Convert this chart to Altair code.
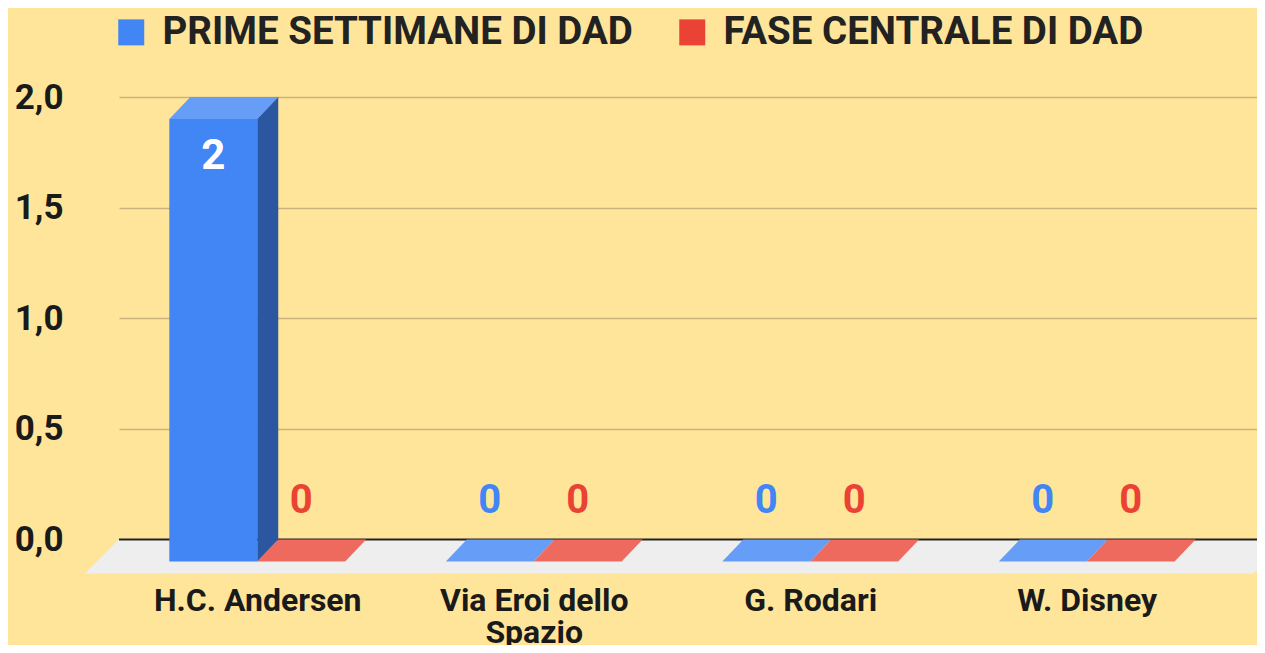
import altair as alt
import pandas as pd

# ---- data ----
categories = ["H.C. Andersen", "Via Eroi dello Spazio", "G. Rodari", "W. Disney"]
series = ["PRIME SETTIMANE DI DAD", "FASE CENTRALE DI DAD"]
prime = [2, 0, 0, 0]
fase = [0, 0, 0, 0]
values = {series[0]: prime, series[1]: fase}
y_ticks = [0, 0.5, 1.0, 1.5, 2.0]

# ---- style ----
front_colors = ["#4285f4", "#ea4335"]
top_colors = ["#669df6", "#ee6a5f"]
side_colors = ["#2b57a0", "#a3302a"]
BG = "#ffe599"
FLOOR = "#eeeeee"
FONT = "Roboto"
BW = 0.318      # bar width (category units)
DX, DY = 0.076, 0.0993          # 3D depth in data units
FDX, FDY = 0.123, 0.1536        # floor depth
XMAX = 4.116
YMIN, YMAX = -0.16, 2.0
W, H = 1138, 478

rects, tops, sides = [], [], []
for ci, cat in enumerate(categories):
    c = ci + 0.5
    for si, s in enumerate(series):
        v = values[s][ci]
        L = c - BW + si * BW
        R = L + BW
        pid = f"{ci}-{si}"
        rects.append(dict(series=s, x0=L, x1=R, ylo=-DY, yhi=v - DY, v=v,
                          xc=(L + R) / 2, label=str(v), tc=front_colors[si]))
        for xx, yt, yb in [(L, v - DY, v - DY), (L + DX, v, v - DY),
                           (R, v, v - DY), (R + DX, v, v)]:
            tops.append(dict(pid=pid, x=xx, yt=yt, yb=yb, col=top_colors[si]))
        if v > 0:
            for xx, yt, yb in [(R, v - DY, -DY), (R + DX, v, 0)]:
                sides.append(dict(pid=pid, x=xx, yt=yt, yb=yb, col=side_colors[si]))

floor_right = XMAX + 0.11
floor = pd.DataFrame([
    dict(pid="f", x=-FDX, yt=-FDY, yb=-FDY, col=FLOOR),
    dict(pid="f", x=0, yt=0, yb=-FDY, col=FLOOR),
    dict(pid="f", x=floor_right - FDX, yt=0, yb=-FDY, col=FLOOR),
    dict(pid="f", x=floor_right, yt=0, yb=0, col=FLOOR),
])
rects = pd.DataFrame(rects)
tops = pd.DataFrame(tops)
sides = pd.DataFrame(sides)

label_expr = ("datum.value < 1 ? 'H.C. Andersen' : datum.value < 2 ? ['Via Eroi dello', 'Spazio'] : "
              "datum.value < 3 ? 'G. Rodari' : 'W. Disney'")

xscale = alt.Scale(domain=[0, XMAX], nice=False, zero=False)
yscale = alt.Scale(domain=[YMIN, YMAX], nice=False, zero=False)
xaxis = alt.Axis(values=[0.5, 1.5, 2.5, 3.5], labelExpr=label_expr, title=None, grid=False,
                 domain=False, ticks=False, labelFontSize=32, labelFont=FONT, labelFontWeight="bold",
                 labelColor="#1a1a1a", labelPadding=10, labelLineHeight=32, labelBaseline="top",
                 labelLimit=0)
yaxis = alt.Axis(values=y_ticks, labelExpr="replace(format(datum.value, '.1f'), '.', ',')",
                 title=None, grid=True, gridColor="#c9b27b", gridWidth=1.5, domain=False, ticks=False,
                 labelFontSize=35, labelFont=FONT, labelFontWeight="bold", labelColor="#1a1a1a",
                 labelPadding=56)


def X(field):
    return alt.X(field, type="quantitative", scale=xscale, axis=xaxis)


def Y(field):
    return alt.Y(field, type="quantitative", scale=yscale, axis=yaxis)


def faces(df):
    return alt.Chart(df).mark_area(interpolate="linear").encode(
        x=X("x"), y=Y("yt"), y2="yb", fill=alt.Fill("col:N", scale=None), detail="pid:N")


floor_layer = faces(floor)
zero_line = alt.Chart(pd.DataFrame({"y": [0]})).mark_rule(color="#222222", strokeWidth=2).encode(
    y=Y("y"))
top_layer = faces(tops)
side_layer = faces(sides)

front_layer = alt.Chart(rects).mark_rect().encode(
    x=X("x0"), x2="x1", y=Y("ylo"), y2="yhi",
    color=alt.Color("series:N", scale=alt.Scale(domain=series, range=front_colors),
                    legend=alt.Legend(orient="none", legendX=-7, legendY=-84, direction="horizontal",
                                      title=None, symbolType="square", symbolSize=676,
                                      symbolStrokeWidth=0, labelFontSize=38.5, labelFont=FONT,
                                      labelFontWeight="bold", labelColor="#222222", labelOffset=12,
                                      columnPadding=40, padding=0, labelLimit=0)))

inside_labels = alt.Chart(rects).transform_filter("datum.v > 0").transform_calculate(
    ytf="datum.v - %f" % DY).mark_text(
    font=FONT, fontWeight="bold", fontSize=42, color="white", dy=37, baseline="middle",
    align="center").encode(x=X("xc"), y=Y("ytf:Q"), text="label:N")

outside_labels = alt.Chart(rects).transform_filter("datum.v <= 0").transform_calculate(
    ytf="datum.v - %f" % DY).mark_text(
    font=FONT, fontWeight="bold", fontSize=40, dy=-61, baseline="middle",
    align="center").encode(x=X("xc"), y=Y("ytf:Q"), text="label:N",
                           fill=alt.Fill("tc:N", scale=None))

chart = alt.layer(floor_layer, zero_line, top_layer, side_layer, front_layer,
                  inside_labels, outside_labels).properties(
    width=W, height=H, background=BG,
    padding={"left": 111, "top": 89, "right": 0, "bottom": 70},
    autosize=alt.AutoSizeParams(type="none"),
).configure_view(stroke=None)

chart.save("out.html", embed_options={"renderer": "svg", "actions": False})
